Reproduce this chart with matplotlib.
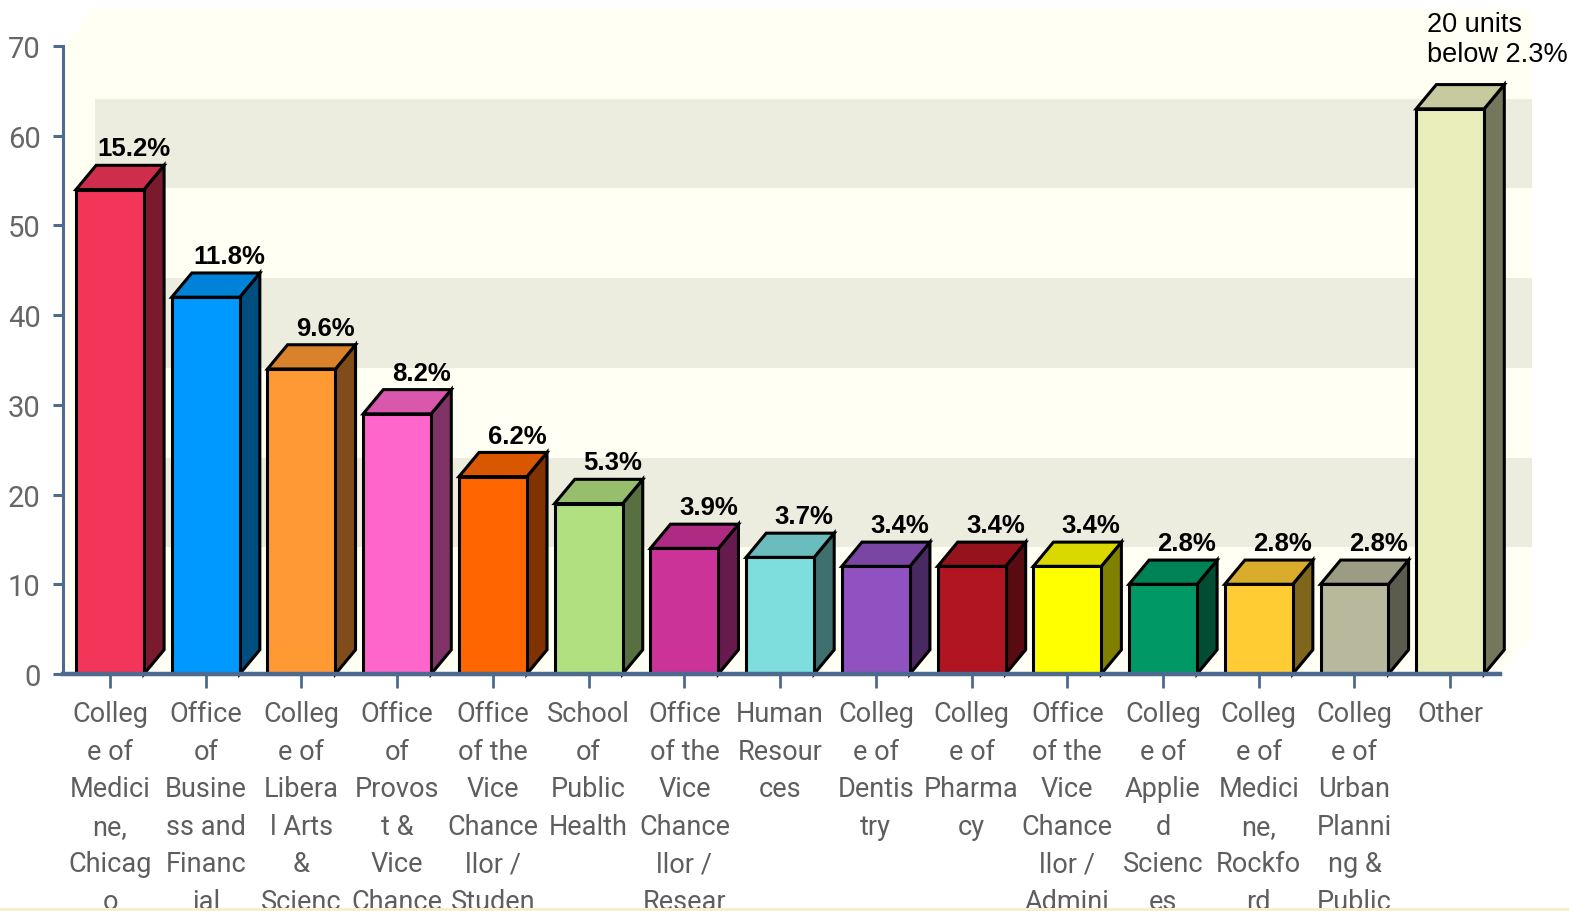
import matplotlib as mpl
mpl.use("Agg")
import matplotlib.pyplot as plt
from matplotlib.patches import Polygon, Rectangle
import matplotlib.colors as mcolors

labels = [
    "Colleg\ne of\nMedici\nne,\nChicag\no",
    "Office\nof\nBusine\nss and\nFinanc\nial",
    "Colleg\ne of\nLibera\nl Arts\n&\nScienc",
    "Office\nof\nProvos\nt &\nVice\nChance",
    "Office\nof the\nVice\nChance\nllor /\nStuden",
    "School\nof\nPublic\nHealth",
    "Office\nof the\nVice\nChance\nllor /\nResear",
    "Human\nResour\nces",
    "Colleg\ne of\nDentis\ntry",
    "Colleg\ne of\nPharma\ncy",
    "Office\nof the\nVice\nChance\nllor /\nAdmini",
    "Colleg\ne of\nApplie\nd\nScienc\nes",
    "Colleg\ne of\nMedici\nne,\nRockfo\nrd",
    "Colleg\ne of\nUrban\nPlanni\nng &\nPublic",
    "Other",
]
values = [54, 42, 34, 29, 22, 19, 14, 13, 12, 12, 12, 10, 10, 10, 63]
pct_labels = ["15.2%", "11.8%", "9.6%", "8.2%", "6.2%", "5.3%", "3.9%", "3.7%",
              "3.4%", "3.4%", "3.4%", "2.8%", "2.8%", "2.8%", None]
other_note = "20 units\nbelow 2.3%"
colors = ["#F23558", "#0099FF", "#FF9933", "#FF66CC", "#FF6600", "#B0E080",
          "#CC3399", "#7EDEDE", "#9052C0", "#B01521", "#FFFF00", "#009966",
          "#FFCC33", "#B8B89C", "#EAEEBA"]
yticks = [0, 10, 20, 30, 40, 50, 60, 70]

W, H = 1569, 912
fig = plt.figure(figsize=(W / 100, H / 100), dpi=100)
# axes placed so that 0..70 maps to pixel rows 675..47
ax = fig.add_axes([63 / W, (H - 675) / H, (1500 - 63) / W, (675 - 47) / H])
x0, x1 = -0.491, 14.52
ax.set_xlim(x0, x1)
ax.set_ylim(0, 70)

axis_col = "#4E6A8E"
cream = "#FFFFF4"
band = "#ECECDF"

# back wall / floor / side wall (3d box)
wdx, wdy = 0.334, 4.12
ax.add_patch(Polygon([(x0, 0), (x0 + wdx, wdy), (x0 + wdx, 70 + wdy), (x0, 70)],
                     closed=True, fc=cream, ec="none", clip_on=False, zorder=0))
ax.add_patch(Rectangle((x0 + wdx, wdy), x1 - x0, 70, fc=cream, ec="none",
                       clip_on=False, zorder=0))
for lo in [10, 30, 50]:
    ax.add_patch(Rectangle((x0 + wdx, lo + wdy), x1 - x0, 10, fc=band, ec="none",
                           clip_on=False, zorder=0.5))
ax.add_patch(Polygon([(x0, 0), (x1, 0), (x1 + wdx, wdy), (x0 + wdx, wdy)],
                     closed=True, fc=cream, ec="none", clip_on=False, zorder=0.6))

# 3d bars
w = 0.71
bdx, bdy = 0.21, 2.7
for i, v in enumerate(values):
    rgb = mcolors.to_rgb(colors[i])
    top = tuple(c * 0.85 for c in rgb)
    side = tuple(c * 0.5 for c in rgb)
    l, r = i - w / 2, i + w / 2
    ax.add_patch(Polygon([(r, 0), (r + bdx, bdy), (r + bdx, v + bdy), (r, v)],
                         closed=True, fc=side, ec="black", lw=2.2, zorder=2,
                         clip_on=False, joinstyle="miter"))
    ax.add_patch(Polygon([(l, v), (r, v), (r + bdx, v + bdy), (l + bdx, v + bdy)],
                         closed=True, fc=top, ec="black", lw=2.2, zorder=2,
                         clip_on=False, joinstyle="miter"))
    ax.add_patch(Rectangle((l, 0), w, v, fc=colors[i], ec="black", lw=2.2, zorder=3,
                           clip_on=False, joinstyle="miter"))
    if pct_labels[i]:
        ax.text(i + 0.25, v + bdy + 1.1, pct_labels[i], ha="center", va="baseline",
                fontsize=18.5, fontweight="bold", family=["Liberation Sans", "DejaVu Sans"],
                color="black", zorder=4, clip_on=False)

ax.text(len(values) - 1 - 0.24, 70 + wdy - 0.2, other_note, ha="left", va="top",
        fontsize=19.5, family=["Liberation Sans", "DejaVu Sans"], color="black",
        linespacing=1.2, clip_on=False)

# axes styling
for s in ["top", "right"]:
    ax.spines[s].set_visible(False)
ax.spines["left"].set_color(axis_col)
ax.spines["left"].set_linewidth(2.2)
ax.spines["bottom"].set_color(axis_col)
ax.spines["bottom"].set_linewidth(3.2)
ax.spines["bottom"].set_zorder(5)
ax.set_facecolor("none")

lab_font = ["Roboto", "DejaVu Sans"]
ax.set_yticks(yticks)
ax.set_yticklabels([str(t) for t in yticks], family=lab_font, fontsize=21, color="#666666")
ax.tick_params(axis="y", length=7, width=2.2, color=axis_col, pad=9)
ax.set_xticks(range(len(labels)))
ax.set_xticklabels(labels, family=lab_font, fontsize=19.5, color="#5E5E5E",
                   linespacing=1.5, va="top")
ax.tick_params(axis="x", length=10, width=2, color=axis_col, pad=9)

# thin yellow strip along the bottom edge
fig.add_artist(Rectangle((0, 0), 1, 3 / H, transform=fig.transFigure,
                         fc="#F6EFCC", ec="none"))

fig.savefig("out.png", dpi=100)
